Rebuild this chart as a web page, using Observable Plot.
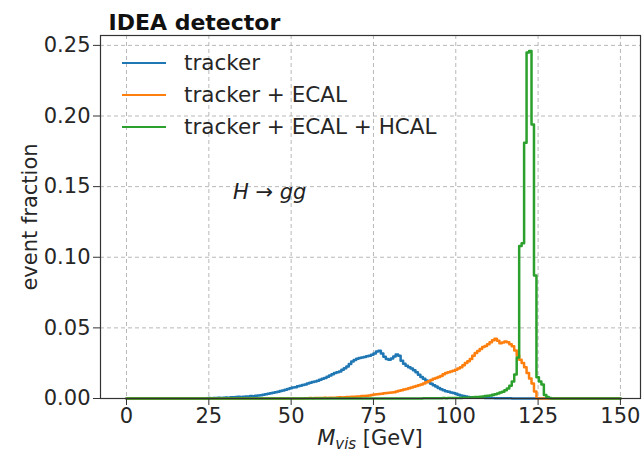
<!DOCTYPE html>
<html>
<head>
<meta charset="utf-8">
<script src="https://cdn.jsdelivr.net/npm/d3@7"></script>
<script src="https://cdn.jsdelivr.net/npm/@observablehq/plot@0.6"></script>
<style>
  body { margin: 0; background: #fff; }
  #chart { position: relative; width: 644px; height: 458px; font-family: "DejaVu Sans", sans-serif; color: #262626; }
  #chart svg { position: absolute; left: 0; top: 0; }
  .legend { position: absolute; left: 122px; top: 47px; font-size: 21.5px; line-height: 32px; }
  .legend .row { display: flex; align-items: center; height: 32px; }
  .legend .sw { display: inline-block; width: 44px; height: 2.6px; margin-right: 18px; }
  .xlabel { position: absolute; left: 100px; width: 540px; top: 428px; text-align: center; font-size: 21px; line-height: 21px; }
  .xlabel sub { font-size: 15px; vertical-align: -4px; line-height: 0; }
</style>
</head>
<body>
<div id="chart"></div>
<script>
// Histogram binning: 200 bins of 0.75 GeV over 0–150 GeV
const binWidth = 0.75;
const nBins = 200;

// Event fraction per bin, listed from the first non-empty bin (start in GeV)
const trackerStart = 24;
const tracker = [
  .0002,.0003,.0002,.0004,.0003,.0005,.0004,.0006,.0007,.0006,.0008,.0009,.0010,.0012,.0011,.0013,
  .0014,.0015,.0017,.0016,.0019,.0021,.0023,.0026,.0030,.0033,.0037,.0041,.0044,.0048,.0053,.0056,
  .0062,.0068,.0072,.0078,.0080,.0086,.0090,.0095,.0099,.0106,.0112,.0116,.0121,.0125,.0133,.0140,
  .0146,.0154,.0163,.0172,.0180,.0186,.0192,.0203,.0215,.0226,.0244,.0262,.0272,.0281,.0287,.0290,
  .0294,.0300,.0303,.0310,.0318,.0333,.0338,.0318,.0296,.0280,.0274,.0283,.0298,.0312,.0303,.0268,
  .0246,.0232,.0222,.0212,.0200,.0186,.0168,.0152,.0140,.0128,.0116,.0104,.0094,.0085,.0075,.0065,
  .0058,.0052,.0048,.0043,.0039,.0033,.0027,.0022,.0018,.0014,.0011,.0009,.0008,.0007,.0006,.0005,
  .0005,.0004,.0004,.0003,.0003,.0002,.0002,.0002,.0001,.0001,.0001,.0001
];

const ecalStart = 54;
const trackerEcal = [
  .0002,.0002,.0003,.0002,.0003,.0004,.0003,.0004,.0005,.0004,.0005,.0006,.0006,.0007,.0008,.0007,
  .0009,.0010,.0011,.0012,.0012,.0014,.0015,.0017,.0018,.0020,.0022,.0025,.0028,.0030,.0032,.0034,
  .0037,.0039,.0041,.0043,.0045,.0049,.0055,.0059,.0063,.0068,.0072,.0078,.0083,.0088,.0094,.0100,
  .0107,.0115,.0122,.0131,.0140,.0146,.0152,.0160,.0172,.0180,.0185,.0191,.0197,.0204,.0212,.0221,
  .0236,.0252,.0264,.0280,.0302,.0322,.0336,.0350,.0364,.0372,.0384,.0398,.0412,.0423,.0408,.0392,
  .0396,.0404,.0398,.0384,.0370,.0340,.0305,.0275,.0252,.0222,.0180,.0142,.0106,.0050
];

const hcalStart = 90;
const trackerEcalHcal = [
  .0001,.0001,.0001,.0002,.0002,.0002,.0002,.0002,.0003,.0002,.0003,.0003,.0003,.0003,.0004,.0004,
  .0005,.0005,.0006,.0007,.0008,.0010,.0011,.0012,.0015,.0017,.0019,.0022,.0026,.0030,.0035,.0042,
  .0048,.0058,.0070,.0090,.0120,.0170,.0290,.1080,.1100,.1810,.2450,.2460,.1940,.0870,.0150,.0120,
  .0100,.0025,.0010,.0004
];

const seriesNames = ["tracker", "tracker + ECAL", "tracker + ECAL + HCAL"];
const seriesColors = ["#1f77b4", "#ff7f0e", "#2ca02c"];

const xTicks = [0, 25, 50, 75, 100, 125, 150];
const yTicks = [0, 0.05, 0.10, 0.15, 0.20, 0.25];

const notes = [{x: 43.5, y: 0.146, text: "H → gg"}];

// Expand a partial bin list to the full range and turn it into step vertices
function stepPoints(start, values, name) {
  const full = new Array(nBins).fill(0);
  const i0 = Math.round(start / binWidth);
  values.forEach((v, i) => { full[i0 + i] = v; });
  const pts = full.map((v, i) => ({x: i * binWidth, y: v, series: name}));
  pts.push({x: nBins * binWidth, y: 0, series: name});
  return pts;
}

const data = [
  ...stepPoints(trackerStart, tracker, seriesNames[0]),
  ...stepPoints(ecalStart, trackerEcal, seriesNames[1]),
  ...stepPoints(hcalStart, trackerEcalHcal, seriesNames[2])
];

const grid = {stroke: "#b0b0b0", strokeOpacity: 1, strokeWidth: 0.9, strokeDasharray: "4,3"};

const chart = Plot.plot({
  width: 644,
  height: 458,
  marginLeft: 100,
  marginRight: 4,
  marginTop: 35,
  marginBottom: 60,
  style: {fontFamily: "DejaVu Sans, sans-serif", fontSize: "21px", color: "#262626", background: "transparent"},
  x: {domain: [-7.9, 156.1]},
  y: {domain: [0, 0.257]},
  color: {domain: seriesNames, range: seriesColors},
  marks: [
    Plot.gridX(xTicks, grid),
    Plot.gridY(yTicks, grid),
    Plot.line(data, {x: "x", y: "y", z: "series", stroke: "series", curve: "step-after", strokeWidth: 2.5}),
    Plot.frame({stroke: "#333", strokeWidth: 1.2}),
    Plot.axisX(xTicks, {tickSize: 7, tickPadding: 3, label: null, fontSize: 21, stroke: "#333"}),
    Plot.axisY(yTicks, {tickSize: 7, tickPadding: 3, label: null, fontSize: 21, stroke: "#333", tickFormat: d => d.toFixed(2)}),
    Plot.text(["event fraction"], {frameAnchor: "left", textAnchor: "middle", lineAnchor: "middle", rotate: -90, dx: -70, fontSize: 21, fill: "#262626"}),
    Plot.text(["IDEA detector"], {frameAnchor: "top-left", dx: 8, dy: -21, fontSize: 22, fontWeight: "bold", textAnchor: "start", fill: "#111"}),
    Plot.text(notes, {x: "x", y: "y", text: "text", fontSize: 21, fontStyle: "italic", fill: "#222"})
  ]
});

const root = document.getElementById("chart");
root.appendChild(chart);

// Legend drawn over the upper-left corner of the plot area
const legend = document.createElement("div");
legend.className = "legend";
seriesNames.forEach((name, i) => {
  const row = document.createElement("div");
  row.className = "row";
  const sw = document.createElement("span");
  sw.className = "sw";
  sw.style.background = seriesColors[i];
  row.appendChild(sw);
  row.appendChild(document.createTextNode(name));
  legend.appendChild(row);
});
root.appendChild(legend);

// x-axis label with italic subscript
const xl = document.createElement("div");
xl.className = "xlabel";
xl.innerHTML = "<i>M</i><sub><i>vis</i></sub> [GeV]";
root.appendChild(xl);
</script>
</body>
</html>
